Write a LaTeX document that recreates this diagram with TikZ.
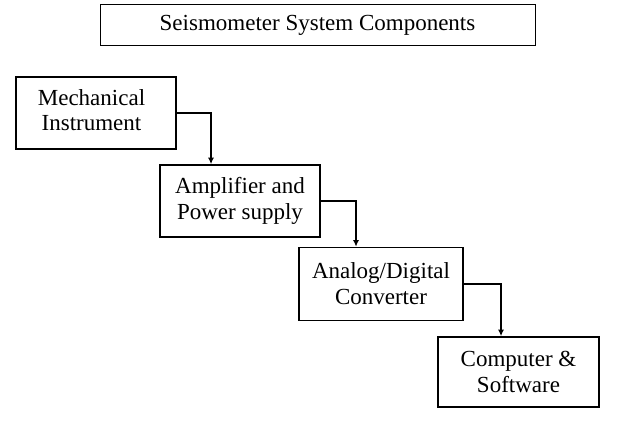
\documentclass[tikz,border=0pt]{standalone}
\usepackage{fontspec}
\setmainfont{Liberation Serif}
\usetikzlibrary{arrows.meta}
\begin{document}
\begin{tikzpicture}[x=1pt,y=-1pt,
  box/.style={draw,line width=1.6pt,rectangle,inner sep=0pt,align=center,font=\fontsize{23}{26}\selectfont},
  titlebox/.style={draw,line width=1pt,rectangle,inner sep=0pt,align=center,font=\fontsize{23}{26}\selectfont},
  conn/.style={line width=1.4pt,-{Latex[length=6.5pt,width=6pt]}}]
\useasboundingbox (0,0) rectangle (620,422);
\node[titlebox,minimum width=435pt,minimum height=41pt] (t) at (317.5,25.5) {Seismometer System Components};
\node[box,minimum width=160pt,minimum height=72pt] (b1) at (96,113) {\begin{tabular}{@{}c@{\hspace{9pt}}}Mechanical\\[-1pt]Instrument\end{tabular}};
\node[box,minimum width=160pt,minimum height=72pt] (b2) at (240,201) {Amplifier and\\Power supply};
\node[box,minimum width=164pt,minimum height=73pt] (b3) at (381,284) {Analog/Digital\\Converter};
\node[box,minimum width=161pt,minimum height=70pt] (b4) at (518.5,372) {Computer \&\\Software};
\coordinate (c1) at (211,113);
\coordinate (c2) at (356,201);
\coordinate (c3) at (501,284);
\draw[conn] (b1.east) -- (c1) -- (c1 |- b2.north);
\draw[conn] (b2.east) -- (c2) -- (c2 |- b3.north);
\draw[conn] (b3.east) -- (c3) -- (c3 |- b4.north);
\end{tikzpicture}
\end{document}
